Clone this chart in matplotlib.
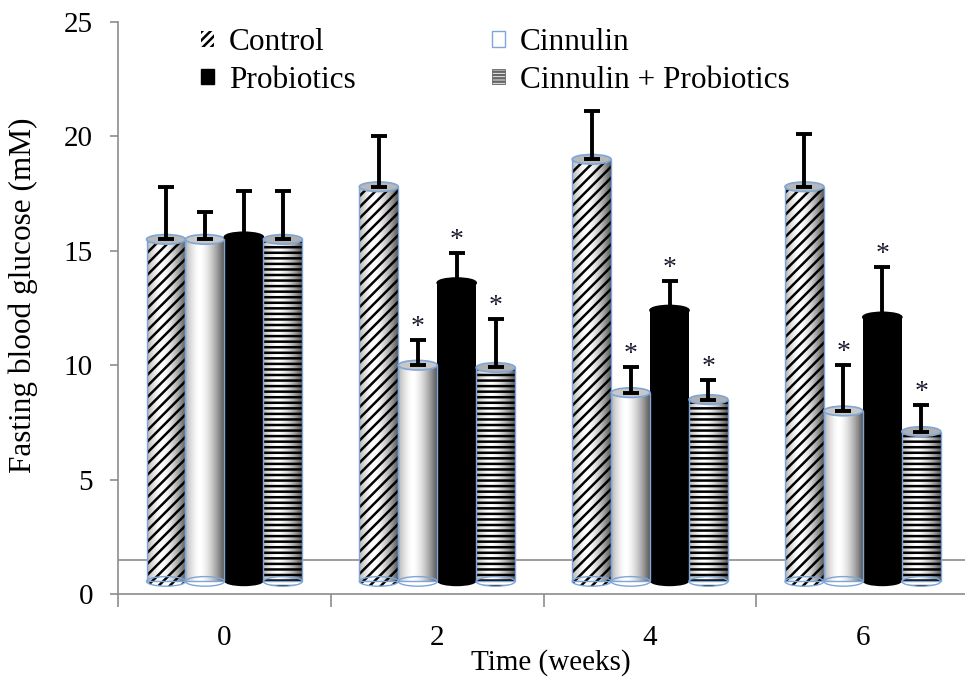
import matplotlib
matplotlib.use("Agg")
import matplotlib.pyplot as plt
import numpy as np
from matplotlib.patches import Ellipse, Patch

plt.rcParams["font.family"] = ["Liberation Serif", "DejaVu Serif"]
plt.rcParams["hatch.linewidth"] = 1.8

# Data (fasting blood glucose, mM)
weeks = ["0", "2", "4", "6"]
groups = ["Control", "Cinnulin", "Probiotics", "Cinnulin + Probiotics"]
control = [15.5, 17.8, 19.0, 17.8]
cinnulin = [15.5, 10.0, 8.8, 8.0]
probiotics = [15.6, 13.6, 12.4, 12.1]
combo = [15.5, 9.9, 8.5, 7.1]
control_err = [2.3, 2.2, 2.1, 2.3]
cinnulin_err = [1.2, 1.1, 1.1, 2.0]
probiotics_err = [2.0, 1.3, 1.3, 2.2]
combo_err = [2.1, 2.1, 0.85, 1.15]
# significance vs control (asterisk shown)
control_sig = [False, False, False, False]
cinnulin_sig = [False, True, True, True]
probiotics_sig = [False, True, True, True]
combo_sig = [False, True, True, True]
floor_value = 1.5

means = [control, cinnulin, probiotics, combo]
errs = [control_err, cinnulin_err, probiotics_err, combo_err]
sigs = [control_sig, cinnulin_sig, probiotics_sig, combo_sig]

# styles: (face, hatch, top ellipse face)
STYLES = [
    ("white", "///", "#b8b8b8"),
    ("white", None, "#c8c8c8"),
    ("black", None, "black"),
    ("white", "---", "#b0b0b0"),
]
EDGE = "#7ea6d8"
GRID = "#8c8c8c"
BASE = 0.55  # bottom of the cylinders (3D floor)
W = 0.183

fig = plt.figure(figsize=(9.65, 6.8), dpi=100)
ax = fig.add_axes([0.1223, 0.1265, 0.8777, 0.8411])

x = np.arange(len(weeks))
ax.axhline(floor_value, color=GRID, lw=1.2, zorder=1)

# horizontal cylinder shading profile (dark edges, highlight left of centre)
t = np.linspace(0, 1, 64)
shade = np.clip(np.abs(t - 0.38) / 0.62, 0, 1) ** 1.6 * 0.65
shade_rgba = np.zeros((1, 64, 4))
shade_rgba[..., 3] = shade

ell_h = 0.42
for i, (vals, err, sig, (face, hatch, top_face)) in enumerate(zip(means, errs, sigs, STYLES)):
    xs = x + (i - 1.5) * W
    heights = np.array(vals) - BASE
    bars = ax.bar(xs, heights, W, bottom=BASE, color=face, hatch=hatch,
                  edgecolor="black", linewidth=0, zorder=2)
    for b, xc, v in zip(bars, xs, vals):
        if face != "black":
            im = ax.imshow(shade_rgba, extent=[xc - W / 2, xc + W / 2, BASE, v],
                           aspect="auto", interpolation="bilinear", zorder=3)
            im.set_clip_path(b)
            ax.add_patch(plt.Rectangle((xc - W / 2, BASE), W, v - BASE, fill=False,
                                       edgecolor=EDGE, lw=1.0, zorder=4))
        # rounded base
        bot = Ellipse((xc, BASE), W, ell_h, facecolor=face, hatch=hatch,
                      edgecolor="black", lw=0, zorder=2)
        ax.add_patch(bot)
        if face != "black":
            ax.add_patch(Ellipse((xc, BASE), W, ell_h, fill=False, edgecolor=EDGE,
                                 lw=1.0, zorder=4))
        # top
        ax.add_patch(Ellipse((xc, v), W, ell_h, facecolor=top_face,
                             edgecolor=EDGE if face != "black" else "black",
                             lw=1.2, zorder=5))
    ax.errorbar(xs, vals, yerr=[np.zeros(len(vals)), err], fmt="none",
                ecolor="black", elinewidth=2.8, capsize=6, capthick=2.8, zorder=6)
    for xc, v, e, s in zip(xs, vals, err, sig):
        if s:
            ax.annotate("*", xy=(xc, v + e), xytext=(0, 0), textcoords="offset points",
                        ha="center", va="bottom", fontsize=20, color="#1a1a2e", zorder=7)

ax.set_xlim(-0.5, 3.48)
ax.set_ylim(0, 25)
ax.set_yticks([0, 5, 10, 15, 20, 25])
ax.tick_params(axis="y", direction="out", length=6, width=1.2, color=GRID,
               labelsize=21, pad=12)
ax.set_xticks([-0.5, 0.5, 1.5, 2.5])
ax.set_xticklabels([])
ax.tick_params(axis="x", which="major", direction="out", length=9, width=1.2, color=GRID)
ax.set_xticks(x, minor=True)
ax.set_xticklabels(weeks, minor=True)
ax.tick_params(axis="x", which="minor", length=0, labelsize=21, pad=22)

for s in ("top", "right"):
    ax.spines[s].set_visible(False)
for s in ("left", "bottom"):
    ax.spines[s].set_color(GRID)
    ax.spines[s].set_linewidth(1.2)

ax.set_xlabel("Time (weeks)", fontsize=21)
ax.xaxis.set_label_coords(0.511, -0.097)
ax.set_ylabel("Fasting blood glucose (mM)", fontsize=22.5)
ax.yaxis.set_label_coords(-0.094, 0.523)

handles = [
    Patch(facecolor="white", edgecolor="black", hatch="////", lw=0),
    Patch(facecolor="black", edgecolor="black"),
    Patch(facecolor="white", edgecolor=EDGE),
    Patch(facecolor="white", edgecolor="#666666", hatch="-----", lw=0.6),
]
labels = ["Control", "Probiotics", "Cinnulin", "Cinnulin + Probiotics"]
ax.legend(handles, labels, ncol=2, loc="upper left", bbox_to_anchor=(0.065, 1.039),
          frameon=False, fontsize=22.5, handlelength=0.4, handleheight=0.4,
          handletextpad=0.48, columnspacing=4.37, labelspacing=0.28)

fig.savefig("out.png", dpi=100)
